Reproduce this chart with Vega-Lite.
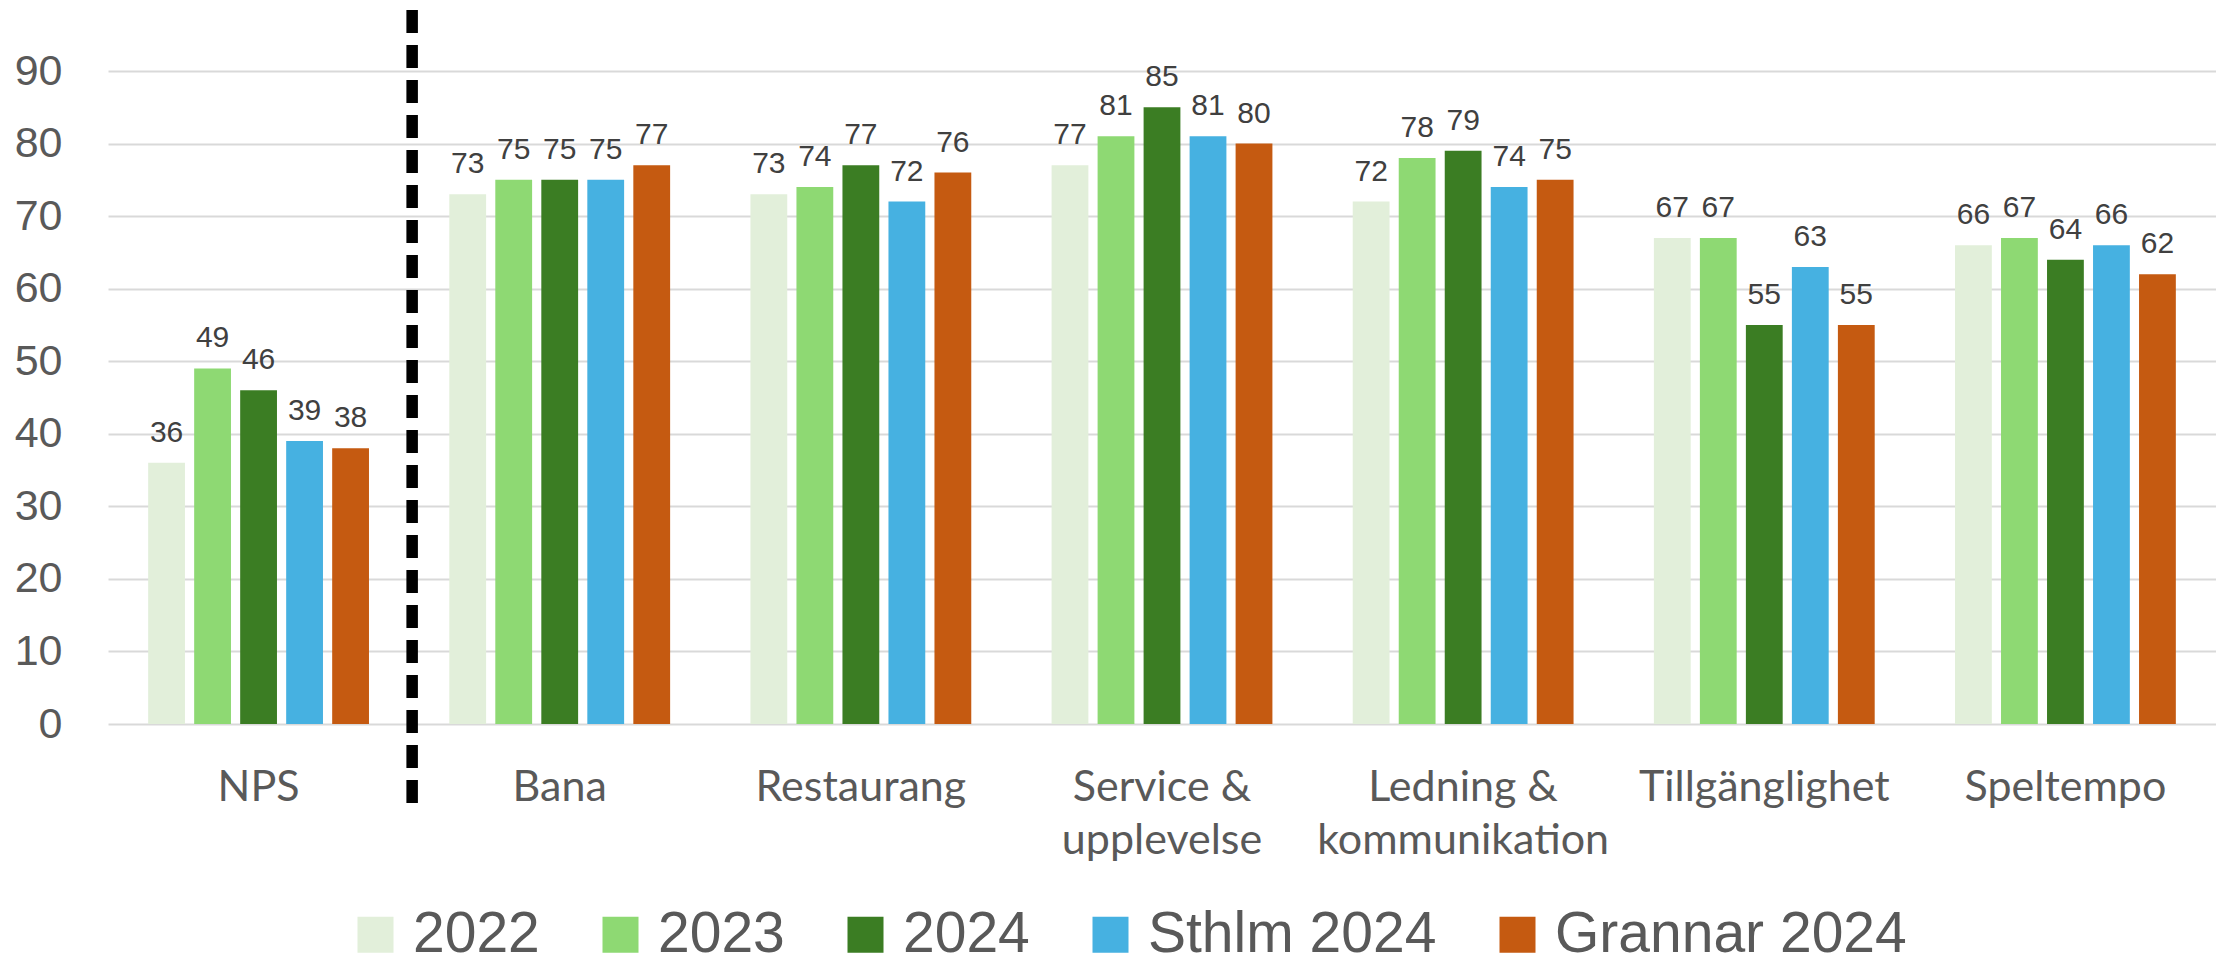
{
  "$schema": "https://vega.github.io/schema/vega-lite/v6.json",
  "width": 2108,
  "height": 653,
  "autosize": {"type": "none"},
  "padding": {"left": 108, "top": 71, "right": 0, "bottom": 233},
  "background": "white",
  "config": {"view": {"stroke": null}, "font": "Liberation Sans"},
  "datasets": {
    "bars": [
      {"cat": "NPS", "series": "2022", "value": 36},
      {"cat": "NPS", "series": "2023", "value": 49},
      {"cat": "NPS", "series": "2024", "value": 46},
      {"cat": "NPS", "series": "Sthlm 2024", "value": 39},
      {"cat": "NPS", "series": "Grannar 2024", "value": 38},
      {"cat": "Bana", "series": "2022", "value": 73},
      {"cat": "Bana", "series": "2023", "value": 75},
      {"cat": "Bana", "series": "2024", "value": 75},
      {"cat": "Bana", "series": "Sthlm 2024", "value": 75},
      {"cat": "Bana", "series": "Grannar 2024", "value": 77},
      {"cat": "Restaurang", "series": "2022", "value": 73},
      {"cat": "Restaurang", "series": "2023", "value": 74},
      {"cat": "Restaurang", "series": "2024", "value": 77},
      {"cat": "Restaurang", "series": "Sthlm 2024", "value": 72},
      {"cat": "Restaurang", "series": "Grannar 2024", "value": 76},
      {"cat": "Service & upplevelse", "series": "2022", "value": 77},
      {"cat": "Service & upplevelse", "series": "2023", "value": 81},
      {"cat": "Service & upplevelse", "series": "2024", "value": 85},
      {"cat": "Service & upplevelse", "series": "Sthlm 2024", "value": 81},
      {"cat": "Service & upplevelse", "series": "Grannar 2024", "value": 80},
      {"cat": "Ledning & kommunikation", "series": "2022", "value": 72},
      {"cat": "Ledning & kommunikation", "series": "2023", "value": 78},
      {"cat": "Ledning & kommunikation", "series": "2024", "value": 79},
      {"cat": "Ledning & kommunikation", "series": "Sthlm 2024", "value": 74},
      {"cat": "Ledning & kommunikation", "series": "Grannar 2024", "value": 75},
      {"cat": "Tillgänglighet", "series": "2022", "value": 67},
      {"cat": "Tillgänglighet", "series": "2023", "value": 67},
      {"cat": "Tillgänglighet", "series": "2024", "value": 55},
      {"cat": "Tillgänglighet", "series": "Sthlm 2024", "value": 63},
      {"cat": "Tillgänglighet", "series": "Grannar 2024", "value": 55},
      {"cat": "Speltempo", "series": "2022", "value": 66},
      {"cat": "Speltempo", "series": "2023", "value": 67},
      {"cat": "Speltempo", "series": "2024", "value": 64},
      {"cat": "Speltempo", "series": "Sthlm 2024", "value": 66},
      {"cat": "Speltempo", "series": "Grannar 2024", "value": 62}
    ],
    "divider": [{"cat": "NPS", "top": 98.4, "bottom": -11.4}]
  },
  "layer": [
    {
      "data": {"name": "bars"},
      "mark": {"type": "bar"},
      "encoding": {
        "x": {
          "field": "cat", "type": "nominal",
          "sort": ["NPS", "Bana", "Restaurang", "Service & upplevelse", "Ledning & kommunikation", "Tillgänglighet", "Speltempo"],
          "scale": {"paddingInner": 0, "paddingOuter": 0},
          "axis": {
            "title": null, "domain": false, "ticks": false, "tickSize": 0,
            "labelAngle": 0, "labelFont": "Lato", "labelFontSize": 43, "labelColor": "#595959",
            "labelBaseline": "alphabetic", "labelPadding": 76, "labelLineHeight": 53, "labelLimit": 1000,
            "labelExpr": "datum.value == 'Service & upplevelse' ? ['Service &', 'upplevelse'] : datum.value == 'Ledning & kommunikation' ? ['Ledning &', 'kommunikation'] : datum.label"
          }
        },
        "xOffset": {
          "field": "series", "type": "nominal",
          "sort": ["2022", "2023", "2024", "Sthlm 2024", "Grannar 2024"],
          "scale": {"paddingInner": 0.2, "paddingOuter": 0.873}
        },
        "y": {
          "field": "value", "type": "quantitative",
          "scale": {"domain": [0, 90], "nice": false},
          "axis": {
            "title": null, "domain": false, "ticks": false, "tickSize": 0,
            "values": [0, 10, 20, 30, 40, 50, 60, 70, 80, 90],
            "labelFont": "Liberation Sans", "labelFontSize": 43, "labelColor": "#595959", "labelPadding": 46,
            "gridColor": "#D9D9D9", "gridWidth": 2
          }
        },
        "color": {
          "field": "series", "type": "nominal",
          "sort": ["2022", "2023", "2024", "Sthlm 2024", "Grannar 2024"],
          "scale": {
            "domain": ["2022", "2023", "2024", "Sthlm 2024", "Grannar 2024"],
            "range": ["#E2EFDA", "#8ED973", "#3B7D23", "#46B1E1", "#C55A11"]
          },
          "legend": {
            "title": null, "orient": "none", "direction": "horizontal",
            "legendX": 239, "legendY": 835,
            "symbolType": "square", "symbolSize": 1296, "symbolStrokeWidth": 0,
            "labelFont": "Liberation Sans", "labelFontSize": 57, "labelColor": "#595959",
            "labelOffset": 9, "columnPadding": 52, "labelLimit": 1000, "padding": 0
          }
        }
      }
    },
    {
      "data": {"name": "bars"},
      "mark": {"type": "text", "font": "Liberation Sans", "fontSize": 30, "color": "#404040", "baseline": "alphabetic", "dy": -21},
      "encoding": {
        "x": {
          "field": "cat", "type": "nominal",
          "sort": ["NPS", "Bana", "Restaurang", "Service & upplevelse", "Ledning & kommunikation", "Tillgänglighet", "Speltempo"]
        },
        "xOffset": {
          "field": "series", "type": "nominal",
          "sort": ["2022", "2023", "2024", "Sthlm 2024", "Grannar 2024"]
        },
        "y": {"field": "value", "type": "quantitative"},
        "text": {"field": "value", "type": "quantitative"}
      }
    },
    {
      "data": {"name": "divider"},
      "mark": {"type": "rule", "color": "black", "strokeWidth": 11.5, "strokeDash": [23, 12], "clip": false},
      "encoding": {
        "x": {
          "field": "cat", "type": "nominal", "bandPosition": 1.01,
          "sort": ["NPS", "Bana", "Restaurang", "Service & upplevelse", "Ledning & kommunikation", "Tillgänglighet", "Speltempo"]
        },
        "y": {"field": "top", "type": "quantitative"},
        "y2": {"field": "bottom"}
      }
    }
  ]
}
